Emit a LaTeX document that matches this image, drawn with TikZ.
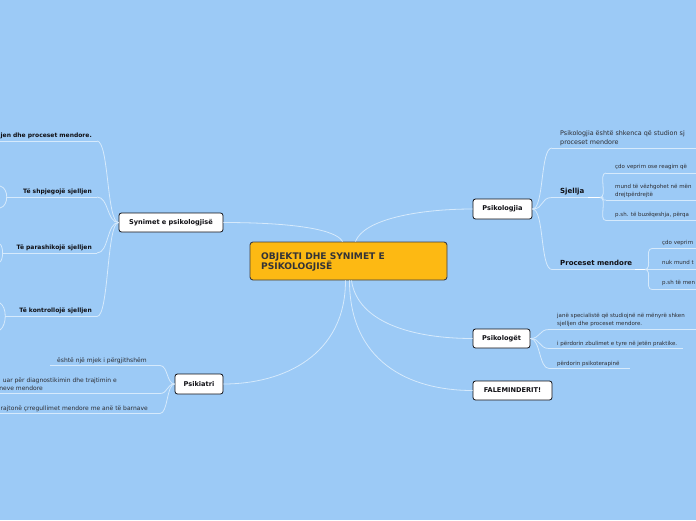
\documentclass[tikz,border=0pt]{standalone}
\usepackage{fontspec}
\setmainfont{DejaVu Sans}
\definecolor{bgc}{RGB}{156,202,246}
\definecolor{edgec}{RGB}{214,234,252}
\definecolor{rootc}{RGB}{253,185,19}
\definecolor{txtc}{RGB}{45,45,50}
\definecolor{boldc}{RGB}{15,15,20}
\tikzset{
  conn/.style={draw=edgec, line width=0.8pt},
  topic/.style={draw=boldc, fill=white, rounded corners=2.5pt, line width=0.8pt, font=\fontsize{6.6}{7}\selectfont\bfseries, text=boldc, inner sep=0pt},
  lblL/.style={anchor=base east, inner sep=0pt, font=\fontsize{6}{7}\selectfont\bfseries, text=boldc},
  lblB/.style={anchor=base west, inner sep=0pt, font=\fontsize{7}{8}\selectfont\bfseries, text=boldc},
  txt/.style={inner sep=0pt, font=\fontsize{6}{7}\selectfont, text=txtc},
  txts/.style={inner sep=0pt, font=\fontsize{5.5}{6.5}\selectfont, text=txtc},
}
\begin{document}
\begin{tikzpicture}[x=1pt,y=-1pt]
\fill[bgc] (0,0) rectangle (696,520);
\useasboundingbox (0,0) rectangle (696,520);
\clip (0,0) rectangle (696,520);

% main nodes
\node[draw=boldc!80, fill=rootc, rounded corners=3pt, line width=0.9pt, minimum width=197pt, minimum height=38pt, inner sep=0pt] (root) at (348.5,261) {};
\node[anchor=base west, inner sep=0pt, align=left, font=\fontsize{9.1}{10.3}\selectfont\bfseries, text=boldc!85] (roott) at (261,269.3) {OBJEKTI DHE SYNIMET E\\PSIKOLOGJISË};
\node[topic, minimum width=59pt, minimum height=20pt] (psy) at (502.5,209) {Psikologjia};
\node[topic, minimum width=57pt, minimum height=19pt] (psg) at (501.5,338.5) {Psikologët};
\node[topic, minimum width=79pt, minimum height=19pt] (fal) at (512.5,390.5) {FALEMINDERIT!};
\node[topic, minimum width=104pt, minimum height=19pt] (syn) at (171,222.5) {Synimet e psikologjisë};
\node[topic, minimum width=48pt, minimum height=20pt] (psk) at (199,384) {Psikiatri};

% root connectors
\draw[conn] (syn.east) .. controls +(70,0) and +(-6,-12) .. ([xshift=-6pt]root.north);
\draw[conn] ([xshift=7pt]root.north) .. controls +(8,-22) and +(-55,0) .. (psy.west);
\draw[conn] ([xshift=3pt]root.south) .. controls +(6,42) and +(-60,0) .. (psg.west);
\draw[conn] ([xshift=1pt]root.south) .. controls +(0,80) and +(-65,0) .. (fal.west);
\draw[conn] ([xshift=-3pt]root.south) .. controls +(0,75) and +(60,0) .. (psk.east);

% ---------- Synimet children ----------
\node[lblL] (t1) at (92,137) {ljen dhe proceset mendore.};
\node[lblL] (t2) at (92,193) {Të shpjegojë sjelljen};
\node[lblL] (t3) at (92,249) {Të parashikojë sjelljen};
\node[lblL] (t4) at (92,312.5) {Të kontrollojë sjelljen};
\coordinate (t1a) at (0,141); \coordinate (t1b) at (97,141);
\coordinate (t2a) at (6,197); \coordinate (t2b) at (97,197);
\coordinate (t3a) at (2,253); \coordinate (t3b) at (97,253);
\coordinate (t4a) at (5,316.5); \coordinate (t4b) at (97,316.5);
\foreach \c in {t1,t2,t3,t4}{
  \draw[conn] (syn.west) .. controls +(-12,0) and +(12,0) .. (\c b);
  \draw[conn] (\c a) -- (\c b);
}
\draw[conn] (0,186) .. controls (9,188) and (9,206) .. (0,208);
\draw[conn] (0,244) .. controls (3.5,247) and (3.5,259) .. (0,262);
\draw[conn] (0,303) .. controls (7,307) and (7,325) .. (0,330);

% ---------- Psikiatri children ----------
\node[txt, anchor=base west] (p1) at (57,362) {është një mjek i përgjithshëm};
\node[txt, anchor=base east] (p2a) at (117,382) {uar për diagnostikimin dhe trajtimin e};
\node[txt, anchor=base east] (p2b) at (43,390.5) {neve mendore};
\node[txt, anchor=base east] (p3) at (148,410) {rajtonë çrregullimet mendore me anë të barnave};
\coordinate (p1a) at (50,365.5); \coordinate (p1b) at (160,365.5);
\coordinate (p2c) at (0,393.5); \coordinate (p2d) at (160,393.5);
\coordinate (p3a) at (0,413.5); \coordinate (p3b) at (160,413.5);
\draw[conn] (psk.west) .. controls +(-8,0) and +(8,0) .. (p1b);
\draw[conn] (psk.west) .. controls +(-8,0) and +(8,0) .. (p2d);
\draw[conn] (psk.west) .. controls +(-8,0) and +(8,0) .. (p3b);
\draw[conn] (p1a) -- (p1b);
\draw[conn] (p2c) -- (p2d);
\draw[conn] (p3a) -- (p3b);

% ---------- Psikologjia children ----------
\node[inner sep=0pt, font=\fontsize{6.4}{9}\selectfont, text=txtc, anchor=base west, align=left] (r1) at (560,144.5) {Psikologjia është shkenca që studion sj\\proceset mendore};
\node[lblB] (r2) at (560,193.5) {Sjellja};
\node[lblB] (r3) at (560,265) {Proceset mendore};
\coordinate (r1a) at (552,148); \coordinate (r1b) at (696,148);
\coordinate (r2a) at (552,197.5); \coordinate (r2b) at (600,197.5);
\coordinate (r3a) at (552,269.5); \coordinate (r3b) at (645,269.5);
\foreach \c in {r1,r2,r3}{
  \draw[conn] (psy.east) .. controls +(12,0) and +(-12,0) .. (\c a);
  \draw[conn] (\c a) -- (\c b);
}
\draw[white, line width=0.9pt] (588,197.5) -- (r2b);
\draw[white, line width=0.9pt] (635,269.5) -- (r3b);

% Sjellja children
\node[txts, anchor=base west] (s1) at (615,168.5) {çdo veprim ose reagim që};
\node[inner sep=0pt, font=\fontsize{5.5}{8.5}\selectfont, text=txtc, anchor=base west, align=left] (s2) at (615,196.5) {mund të vëzhgohet në mën\\drejtpërdrejtë};
\node[txts, anchor=base west] (s3) at (615,216) {p.sh. të buzëqeshja, përqa};
\coordinate (s1a) at (606,173); \coordinate (s1b) at (696,173);
\coordinate (s2a) at (606,200); \coordinate (s2b) at (696,200);
\coordinate (s3a) at (606,220.5); \coordinate (s3b) at (696,220.5);
\foreach \c in {s1,s2,s3}{
  \draw[conn] (r2b) .. controls +(8,0) and +(-8,0) .. (\c a);
  \draw[conn] (\c a) -- (\c b);
}

% Proceset mendore children
\node[txts, anchor=base west] (q1) at (662,244) {çdo veprim};
\node[txts, anchor=base west] (q2) at (662,264.5) {nuk mund t};
\node[txts, anchor=base west] (q3) at (662,284.5) {p.sh të men};
\coordinate (q1a) at (652,248.5); \coordinate (q1b) at (696,248.5);
\coordinate (q2a) at (652,269.5); \coordinate (q2b) at (696,269.5);
\coordinate (q3a) at (652,289.5); \coordinate (q3b) at (696,289.5);
\foreach \c in {q1,q2,q3}{
  \draw[conn] (r3b) .. controls +(8,0) and +(-8,0) .. (\c a);
  \draw[conn] (\c a) -- (\c b);
}

% ---------- Psikologët children ----------
\node[inner sep=0pt, font=\fontsize{5.5}{8.3}\selectfont, text=txtc, anchor=base west, align=left] (k1) at (557,325.6) {janë specialistë që studiojnë në mënyrë shken\\sjelljen dhe proceset mendore.};
\node[txts, anchor=base west] (k2) at (557,345) {i përdorin zbulimet e tyre në jetën praktike.};
\node[txts, anchor=base west] (k3) at (557,365) {përdorin psikoterapinë};
\coordinate (k1a) at (549,329.5); \coordinate (k1b) at (696,329.5);
\coordinate (k2a) at (549,348.5); \coordinate (k2b) at (683,348.5);
\coordinate (k3a) at (549,368.5); \coordinate (k3b) at (630,368.5);
\foreach \c in {k1,k2,k3}{
  \draw[conn] (psg.east) .. controls +(10,0) and +(-10,0) .. (\c a);
  \draw[conn] (\c a) -- (\c b);
}
\end{tikzpicture}
\end{document}
